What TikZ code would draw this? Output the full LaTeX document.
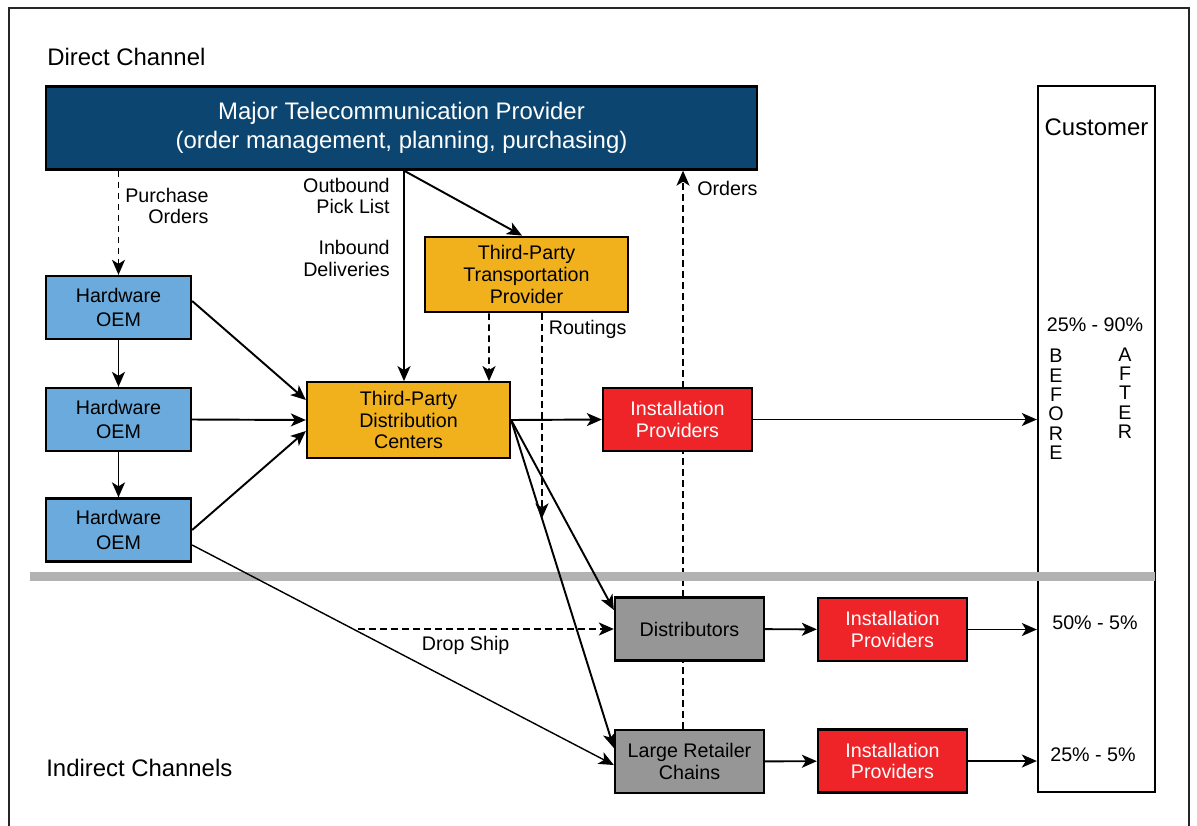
\documentclass[tikz,border=0pt]{standalone}
\usepackage{fontspec}
\setmainfont{Liberation Sans}
\usetikzlibrary{arrows.meta, calc, positioning, backgrounds}
\definecolor{provblue}{RGB}{12,70,112}
\definecolor{oemblue}{RGB}{107,170,220}
\definecolor{tpgold}{RGB}{240,177,29}
\definecolor{instred}{RGB}{238,36,40}
\definecolor{changray}{RGB}{150,150,150}
\definecolor{bargray}{RGB}{178,178,178}
\newcommand{\bigfont}{\fontsize{13.6}{16.5}\selectfont}
\newcommand{\smallfont}{\fontsize{11.2}{12.3}\selectfont}

\begin{document}
\begin{tikzpicture}[
  x=0.2mm, y=-0.2mm,
  box/.style={draw, line width=1.3pt, align=center, inner sep=0pt, font=\smallfont},
  oem/.style={box, fill=oemblue, minimum width=29mm, minimum height=12.6mm,
              font=\fontsize{11.2}{13.8}\selectfont},
  tpbox/.style={box, fill=tpgold, minimum width=40.6mm, minimum height=15.1mm},
  inst/.style={box, fill=instred, text=white, minimum width=29.8mm, minimum height=12.6mm},
  chan/.style={box, fill=changray, minimum width=29.8mm, minimum height=12.6mm},
  lbl/.style={font=\smallfont, align=right},
  arr/.style={-{Stealth[length=3mm, width=2.6mm, inset=0.8mm]}, line width=1.1pt},
  dsh/.style={dash pattern=on 1.3mm off 0.9mm}
]
  \useasboundingbox (0,0) rectangle (1197,825);
  \draw[line width=1.2pt, black!85] (9,8) rectangle (1189,860);

  % customer column and channel divider
  \node[draw, line width=1.3pt, minimum width=23.4mm, minimum height=141.2mm, inner sep=0pt]
    (cust) at (1096.5,439) {};
  \draw[bargray, line width=1.8mm] (30,576) -- (1155,576);

  \node[font=\bigfont, anchor=west, inner sep=0pt] (direct)   at (47,57)  {Direct Channel};
  \node[font=\bigfont, anchor=west, inner sep=0pt] (indirect) at (46,768) {Indirect Channels};

  \node[box, fill=provblue, text=white, font=\bigfont, minimum width=142.2mm, minimum height=16.6mm]
    (mtp) at (401.5,128) {Major Telecommunication Provider\\(order management, planning, purchasing)};
  \node[oem]   (hw1)  at (118.5,307.5) {Hardware\\OEM};
  \node[oem]   (hw2)  at (118.5,419.5) {Hardware\\OEM};
  \node[oem]   (hw3)  at (118.5,530)   {Hardware\\OEM};
  \node[tpbox] (tpdc) at (408.5,420)   {Third-Party\\Distribution\\Centers};
  \node[tpbox] (tptp) at (526.5,274.5) {Third-Party\\Transportation\\Provider};
  \node[inst]  (ip1)  at (677.5,419.5) {Installation\\Providers};
  \node[chan]  (dist) at (689.5,629)   {Distributors};
  \node[chan]  (lrc)  at (689.5,761.5) {Large Retailer\\Chains};
  \node[inst]  (ip2)  at (892.5,629.5) {Installation\\Providers};
  \node[inst]  (ip3)  at (892.5,761)   {Installation\\Providers};

  \node[font=\bigfont]   (custlbl) at (1096.5,127) {Customer};
  \node[font=\smallfont] (share1)  at (1095,325)   {25\% - 90\%};
  \node[font=\fontsize{11.2}{11}\selectfont, align=center] (before) at (1056,404.5) {B\\E\\F\\O\\R\\E};
  \node[font=\fontsize{11.2}{11}\selectfont, align=center] (after)  at (1125,393)   {A\\F\\T\\E\\R};
  \node[font=\smallfont] (share2)  at (1095,623)   {50\% - 5\%};
  \node[font=\smallfont] (share3)  at (1093,755)   {25\% - 5\%};

  % direct channel
  \path (mtp.south -| tpdc.north) ++(-4.5,0) coordinate (fork);
  \draw[arr, dsh] (hw1.north |- mtp.south) -- (hw1.north)
    node[lbl, pos=0.34, right] {Purchase\\Orders};
  \draw[arr] (hw1) -- (hw2);
  \draw[arr] (hw2) -- (hw3);
  \draw[arr] (fork) -- (fork |- tpdc.north)
    node[lbl, pos=0.12, left, xshift=-1.5mm] {Outbound\\Pick List}
    node[lbl, pos=0.417, left, xshift=-1.5mm] {Inbound\\Deliveries};
  \draw[arr] (fork) -- ([xshift=-0.9mm]tptp.north);
  \draw[arr, dsh] ([xshift=-7.5mm]tptp.south) -- ([xshift=16.1mm]tpdc.north);
  \draw[arr] ([yshift=1.3mm]hw1.east) -- ([yshift=4mm]tpdc.west);
  \draw[arr] (hw2.east) -- (tpdc.west);
  \draw[arr] (hw3.east) -- ([yshift=-2.2mm]tpdc.west);
  \draw[arr] (tpdc.east) -- (ip1.west);
  \draw[arr] (ip1.east) -- (ip1.east -| cust.west);

  % indirect channels
  \draw[arr] (tpdc.east) -- ([yshift=3.8mm]dist.west);
  \draw[arr] (tpdc.east) -- ([yshift=2.7mm]lrc.west) coordinate[pos=0.3] (rtend);
  \draw[arr, dsh] (rtend |- tptp.south) -- (rtend)
    node[lbl, pos=0.08, right] {Routings};
  \draw[arr, line width=0.8pt] ([yshift=-3mm]hw3.east) -- ([yshift=-0.7mm]lrc.west)
    coordinate[pos=0.394] (dropfoot);
  \draw[arr, dsh] (dropfoot |- dist.west) -- (dist.west)
    node[lbl, pos=0.42, below] {Drop Ship};
  \draw[arr] (dist) -- (ip2);
  \draw[arr] (ip2.east) -- (ip2.east -| cust.west);
  \draw[arr] (lrc) -- (ip3);
  \draw[arr] (ip3.east) -- (ip3.east -| cust.west);

  \coordinate (ordfoot) at ([xshift=-1.3mm]lrc.north);
  \begin{scope}[on background layer]
    \draw[arr, dsh] (ordfoot) -- (ordfoot |- mtp.south)
      node[lbl, pos=0.968, right, xshift=1.5mm] {Orders};
  \end{scope}
\end{tikzpicture}
\end{document}
